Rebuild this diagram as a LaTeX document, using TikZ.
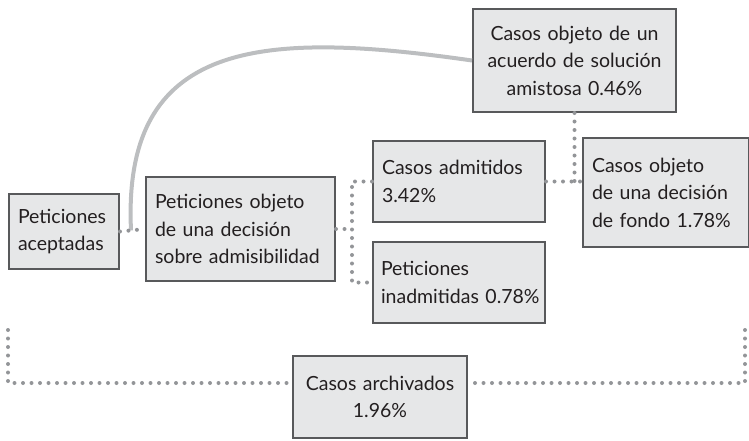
\documentclass[tikz,border=0pt]{standalone}
\usepackage{fontspec}
\setmainfont{Lato}
\usetikzlibrary{calc}
\definecolor{caja}{HTML}{E6E7E8}
\definecolor{borde}{HTML}{58595B}
\definecolor{punto}{HTML}{939598}
\definecolor{curva}{HTML}{BCBEC0}
\definecolor{texto}{HTML}{231F20}
\tikzset{
  caixa/.style={draw=borde,fill=caja,line width=2pt,anchor=north west,
    inner xsep=9pt,inner ysep=0pt,align=left,text=texto,
    font=\fontsize{19.5}{27.5}\selectfont},
  pontos/.style={punto,line width=4pt,line cap=round,
    dash pattern=on 0pt off 8.5pt},
}
\begin{document}
\begin{tikzpicture}[x=1pt,y=-1pt]
	\useasboundingbox (0,0) rectangle (749,440);
	% caixas
	\node[caixa,text width=92pt,minimum height=75pt] (acep) at (8,193) {Peticiones\\aceptadas};
	\node[caixa,text width=171pt,minimum height=104pt] (obj) at (145,176) {Peticiones objeto\\de una decisión\\sobre admisibilidad};
	\node[caixa,text width=154pt,minimum height=81pt] (adm) at (372,140) {Casos admitidos\\3.42\%};
	\node[caixa,text width=162pt,inner xsep=5pt,minimum height=81pt] (inad) at (372,241) {\hspace{3pt}Peticiones\\\hspace{3pt}inadmitidas 0.78\%};
	\node[caixa,text width=148pt,minimum height=109pt] (dec) at (582,137) {Casos objeto\\de una decisión\\de fondo 1.78\%};
	\node[caixa,text width=185pt,minimum height=103pt,align=center] (acu) at (472,8) {Casos objeto de un\\acuerdo de solución\\amistosa 0.46\%};
	\node[caixa,text width=156pt,minimum height=82pt,align=center] (arc) at (292,355) {Casos archivados\\1.96\%};
	% pontos de apoio
	\coordinate (esp) at (352,0);
	\coordinate (bl) at (8,330);
	\coordinate (br) at (745,330);
	\coordinate (cv) at ($(acep.east)!0.44!(obj.west)$);
	% curva
	\draw[curva,line width=4pt] (cv) .. controls (122,40) and (260,30) .. (acu.west);
	% ligacoes pontilhadas
	\draw[pontos] (acep.east) -- (obj.west);
	\draw[pontos] (obj.east) -- (obj.east -| esp);
	\draw[pontos] (adm.west) -| (esp |- inad.west) -- (inad.west);
	\draw[pontos] (adm.east) -- (adm.east -| dec.west);
	\draw[pontos] (acu.south) -- (acu.south |- adm.east);
	\draw[pontos] (bl) |- ([yshift=14pt]arc.west);
	\draw[pontos] (br) |- ([yshift=14pt]arc.east);
\end{tikzpicture}
\end{document}
